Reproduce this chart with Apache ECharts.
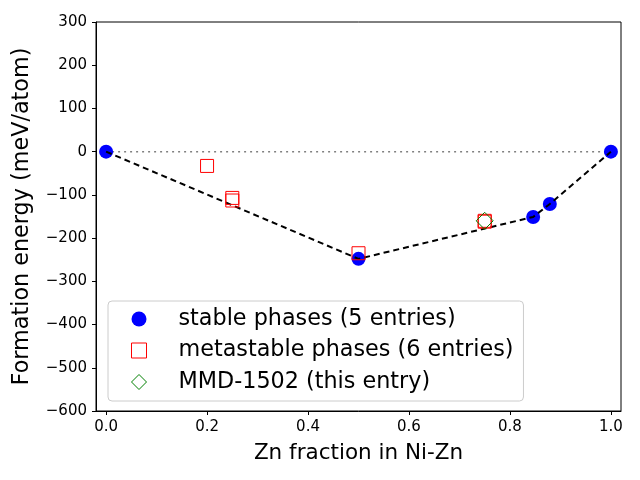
<!DOCTYPE html>
<html>
<head>
<meta charset="utf-8">
<script src="https://cdn.jsdelivr.net/npm/echarts@6/dist/echarts.min.js"></script>
<style>html,body{margin:0;padding:0;background:#fff}#c{width:640px;height:480px}</style>
</head>
<body>
<div id="c"></div>
<script>
const stableX = [0.0, 0.5, 0.846, 0.879, 1.0];
const stableY = [0, -248, -151, -121, 0];
const metaX = [0.2, 0.25, 0.25, 0.5, 0.75, 0.75];
const metaY = [-33, -107, -113, -235, -160, -162];
const entryX = [0.75];
const entryY = [-160];
const hullX = [0.0, 0.5, 0.846, 0.879, 1.0];
const hullY = [0, -248, -151, -121, 0];
const xTicks = [0, 0.2, 0.4, 0.6, 0.8, 1.0];
const names = ['stable phases (5 entries)', 'metastable phases (6 entries)', 'MMD-1502 (this entry)'];

const zip = (a, b) => a.map((v, i) => [v, b[i]]);
const font = 'DejaVu Sans';

const chart = echarts.init(document.getElementById('c'));
chart.setOption({
  animation: false,
  backgroundColor: '#fff',
  grid: { left: 96, right: 19, top: 22, bottom: 69, show: true, borderColor: '#000', borderWidth: 1, backgroundColor: 'transparent' },
  xAxis: {
    type: 'value', min: -0.02, max: 1.02,
    name: 'Zn fraction in Ni-Zn', nameLocation: 'middle', nameGap: 31,
    nameTextStyle: { fontFamily: font, fontSize: 21.5, color: '#000' },
    axisLine: { show: true, onZero: false, lineStyle: { color: '#000', width: 1 } },
    axisTick: { show: true, length: 4, lineStyle: { color: '#000' }, customValues: xTicks },
    axisLabel: { fontFamily: font, fontSize: 15, color: '#000', margin: 9, customValues: xTicks, formatter: v => v.toFixed(1) },
    splitLine: { show: false }
  },
  yAxis: {
    type: 'value', min: -600, max: 300, interval: 100,
    name: 'Formation energy (meV/atom)', nameLocation: 'middle', nameGap: 63,
    nameTextStyle: { fontFamily: font, fontSize: 22.3, color: '#000' },
    axisLine: { show: true, onZero: false, lineStyle: { color: '#000', width: 1 } },
    axisTick: { show: true, length: 4, lineStyle: { color: '#000' } },
    axisLabel: { fontFamily: font, fontSize: 15, color: '#000', margin: 9, formatter: v => (v < 0 ? '\u2212' + Math.abs(v) : String(v)) },
    splitLine: { show: false }
  },
  legend: {
    orient: 'vertical', left: 108, top: 301,
    padding: [7, 10, 8, 23],
    itemGap: 9.5,
    itemWidth: 15, itemHeight: 15,
    backgroundColor: '#fff', borderColor: '#cccccc', borderWidth: 1, borderRadius: 4,
    selectedMode: false,
    textStyle: { fontFamily: font, fontSize: 22.3, color: '#000', lineHeight: 22, padding: [0, 0, 0, 27] },
    data: [
      { name: names[0], icon: 'circle' },
      { name: names[1], icon: 'rect', itemStyle: { color: 'transparent', borderColor: '#ff0000', borderWidth: 1 } },
      { name: names[2], icon: 'diamond', itemStyle: { color: 'transparent', borderColor: '#008000', borderWidth: 1 } }
    ]
  },
  series: [
    {
      type: 'line', data: [[0, 0], [1, 0]], symbol: 'none', silent: true, z: 1,
      lineStyle: { color: '#808080', width: 1.5, type: [2, 4] }
    },
    {
      name: names[0], type: 'scatter', data: zip(stableX, stableY), symbol: 'circle', symbolSize: 14, z: 2,
      itemStyle: { color: '#0000ff', opacity: 1 }
    },
    {
      type: 'line', data: zip(hullX, hullY), symbol: 'none', silent: true, z: 3,
      lineStyle: { color: '#000', width: 2, type: [6, 4] }
    },
    {
      name: names[1], type: 'scatter', data: zip(metaX, metaY), symbol: 'rect', symbolSize: 13, z: 4,
      itemStyle: { color: 'transparent', borderColor: '#ff0000', borderWidth: 1, opacity: 1 }
    },
    {
      name: names[2], type: 'scatter', data: zip(entryX, entryY), symbol: 'diamond', symbolSize: 17, z: 5,
      itemStyle: { color: 'transparent', borderColor: '#008000', borderWidth: 1, opacity: 1 }
    }
  ]
});
</script>
</body>
</html>
